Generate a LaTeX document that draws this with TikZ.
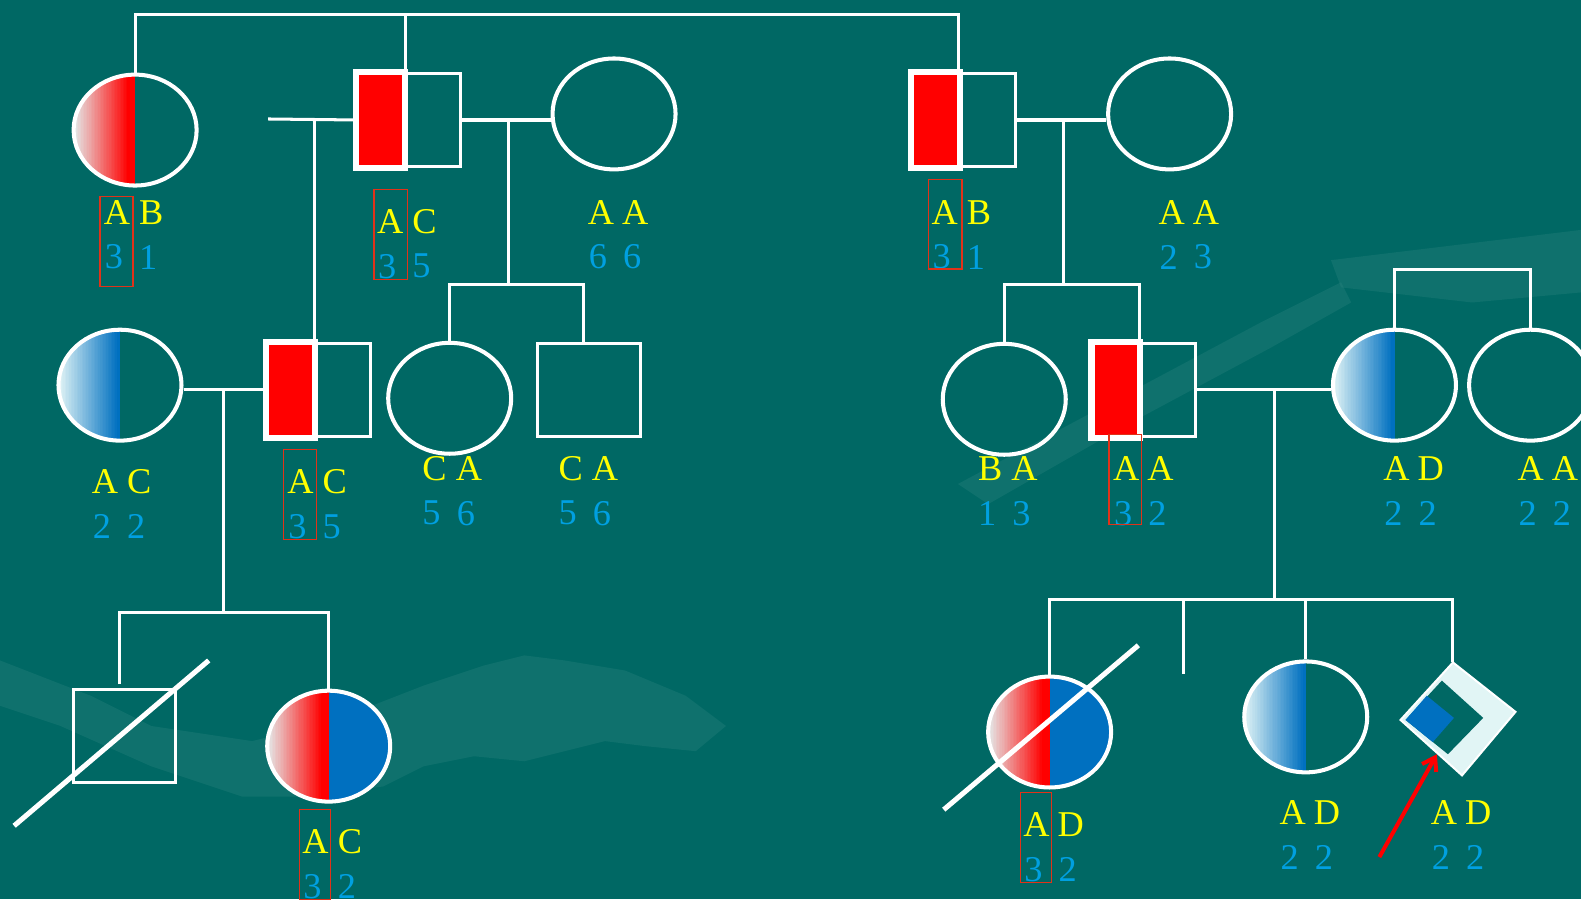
\documentclass[tikz,border=0pt]{standalone}
\usepackage{fontspec}
\setmainfont{Liberation Serif}
\usetikzlibrary{shapes.geometric,arrows.meta}
\definecolor{bgteal}{RGB}{0,104,100}
\definecolor{lightteal}{RGB}{50,135,130}
\definecolor{gyellow}{RGB}{255,255,0}
\definecolor{gblue}{RGB}{0,160,225}
\definecolor{boxred}{RGB}{225,50,25}
\definecolor{solidblue}{RGB}{0,112,192}
\definecolor{palegrey}{RGB}{228,232,232}
\definecolor{palecyan}{RGB}{222,242,245}
\definecolor{diamondfill}{RGB}{225,245,245}
\newcommand{\geno}[7]{%
  \node[allele] (#1a) at (#2,#3) {#4};
  \node[allele] (#1b) at (#2+34,#3) {#5};
  \node[num] (#1c) at (#2-3,#3+44) {#6};
  \node[num] (#1d) at (#2+31,#3+44) {#7};}
% gradient strips on the left half of a path picture: #1 end colour, #2 start colour, #3 strip index at which full colour is reached
\newcommand{\halfgrad}[3]{%
  \foreach \i [evaluate=\i as \p using {int(min(100,\i*100/#3))}] in {0,...,39}{
    \fill[#1!\p!#2] ([xshift=\i*1.525pt]path picture bounding box.north west) rectangle ([xshift=\i*1.525pt+1.9pt]path picture bounding box.south west);
  }}
\begin{document}
\begin{tikzpicture}[x=1pt,y=-1pt,
  fem/.style={ellipse, draw=white, line width=4pt, minimum width=122pt, minimum height=110pt, inner sep=0pt},
  mal/.style={rectangle, draw=white, line width=3pt, minimum width=102pt, minimum height=92pt, inner sep=0pt},
  ln/.style={draw=white, line width=3pt},
  strike/.style={draw=white, line width=5pt, line cap=butt},
  allele/.style={text=gyellow, font=\fontsize{36}{36}\selectfont, inner sep=0pt},
  num/.style={text=gblue, font=\fontsize{36}{36}\selectfont, inner sep=0pt},
  hlbox/.style={draw=boxred, line width=1.5pt},
  redhalf/.style={path picture={\halfgrad{red}{palegrey}{35}}},
  bluehalf/.style={path picture={\halfgrad{solidblue}{palecyan}{38}}},
  redblue/.style={path picture={\halfgrad{red}{palegrey}{35}
      \fill[solidblue] (path picture bounding box.north) rectangle (path picture bounding box.south east);}},
  deco/.style={fill=lightteal, opacity=0.3}
]
\useasboundingbox (0,0) rectangle (1568,892);
\fill[bgteal] (0,0) rectangle (1568,892);
% background decoration
\fill[deco] (0,655) -- (90,690) -- (150,720) -- (250,735) -- (330,715) -- (420,680) -- (480,660) -- (520,650) -- (560,655) -- (620,665) -- (680,690) -- (720,720) -- (690,745) -- (640,740) -- (600,735) -- (560,745) -- (520,755) -- (470,750) -- (420,760) -- (380,780) -- (300,790) -- (240,790) -- (150,760) -- (60,720) -- (0,700) -- cycle;
\fill[deco] (1320,258) -- (1568,228) -- (1568,290) -- (1460,300) -- (1330,285) -- cycle;
\fill[deco] (950,480) -- (1100,400) -- (1250,320) -- (1330,280) -- (1340,300) -- (1260,345) -- (1120,420) -- (980,500) -- cycle;

% generation I
\node[fem, redhalf] (I1) at (134,129) {};
\node[mal] (I2) at (406,119) {};
\node[fem] (I3) at (609,113) {};
\node[mal] (I4) at (956,119) {};
\node[fem] (I5) at (1160,113) {};
% generation II
\node[fem, bluehalf] (II1) at (119,382) {};
\node[mal] (II2) at (316,386.5) {};
\node[fem] (II3) at (446,395) {};
\node[mal] (II4) at (584.5,387) {};
\node[fem] (II5) at (996,396) {};
\node[mal] (II6) at (1135,386.5) {};
\node[fem, bluehalf] (II7) at (1383,382) {};
\node[fem] (II8) at (1518,382) {};
% generation III
\node[mal] (III1) at (123.5,730) {};
\node[fem, redblue] (III2) at (326,740) {};
\node[fem, redblue] (III3) at (1041,726) {};
\node[fem, bluehalf] (III5) at (1295,711) {};

% red halves of affected males
\foreach \m in {I2,I4,II2,II6}{
  \draw[white, line width=6pt, fill=red] (\m.north west) rectangle ([xshift=-4pt]\m.south);
}

% diamond
\coordinate (DL) at (1389,714);
\coordinate (DT) at (1441,657);
\coordinate (DR) at (1503,706);
\coordinate (DB) at (1450,769);
\fill[diamondfill, draw=white, line width=2pt] (DL) -- (DT) -- (DR) -- (DB) -- cycle;
\fill[bgteal] (1394,714) -- (1430,675) -- (1471,712) -- (1436,748) -- cycle;
\fill[solidblue] (1394,714) -- (1415,690) -- (1442,712) -- (1421,736) -- cycle;

% connectors generation I
\coordinate (topbar) at (0,14);
\coordinate (I2top) at ([xshift=-4pt]I2.north);
\coordinate (I4top) at ([xshift=-5pt]I4.north);
\draw[ln] (I1.north) -- (I1.north |- topbar) -- (I4top |- topbar) -- (I4top);
\draw[ln] (I2top) -- (I2top |- topbar);
\coordinate (I2L) at (266,118);
\draw[ln] (I2L) -- (I2.west);
\coordinate (II2top) at ([xshift=-4pt]II2.north);
\draw[ln] (II2top |- I2L) -- (II2top);
\draw[ln] (I2.east) -- (I3.west |- I2.east);
\coordinate (m1) at (504,119);
\coordinate (s1) at (504,282);
\draw[ln] (m1) -- (s1);
\draw[ln] (II3.north) |- (s1) -| ([xshift=-6pt]II4.north);
\draw[ln] (I4.east) -- (I5.west |- I4.east);
\coordinate (m2) at (1055,119);
\coordinate (s2) at (1055,282);
\draw[ln] (m2) -- (s2);
\draw[ln] (II5.north) |- (s2) -| ([xshift=-5pt]II6.north);
\coordinate (s4) at (1450,267);
\draw[ln] (II7.north) |- (s4) -| (II8.north);

% connectors generation II
\draw[ln] (II1.east |- II2.west) -- (II2.west);
\coordinate (m3) at (222,386.5);
\coordinate (s3) at (222,607);
\draw[ln] (m3) -- (s3);
\draw[ln] ([xshift=-5pt,yshift=4pt]III1.north) |- (s3) -| (III2.north);
\draw[ln] (II6.east) -- (II7.west |- II6.east);
\coordinate (m5) at (1264,386.5);
\coordinate (s5) at (1264,595);
\draw[ln] (m5) -- (s5);
\coordinate (dang) at (1174,668);
\draw[ln] (III3.north) |- (s5) -| (DT);
\draw[ln] (dang) -- (dang |- s5);
\draw[ln] (III5.north) -- (III5.north |- s5);

% strike-through lines
\coordinate (x1a) at (14,819);
\coordinate (x1b) at (207,655);
\draw[strike] (x1a) -- (x1b);
\coordinate (x2a) at (936,803);
\coordinate (x2b) at (1129,640);
\draw[strike] (x2a) -- (x2b);

% arrow
\coordinate (arrT) at (1368,850);
\coordinate (arrH) at (1425,748);
\draw[red, line width=4pt, -{Straight Barb[length=12pt,width=16pt]}] (arrT) -- (arrH);

% genotypes
\geno{gI1}{116}{211}{A}{B}{3}{1}
\geno{gI2}{387}{220}{A}{C}{3}{5}
\geno{gI3}{596}{211}{A}{A}{6}{6}
\geno{gI4}{937}{211}{A}{B}{3}{1}
\geno{gI5}{1162}{211}{A}{A}{2}{3}
\geno{gII1}{104}{478}{A}{C}{2}{2}
\geno{gII2}{298}{478}{A}{C}{3}{5}
\geno{gII3}{431}{465}{C}{A}{5}{6}
\geno{gII4}{566}{465}{C}{A}{5}{6}
\geno{gII5}{982}{465}{B}{A}{1}{3}
\geno{gII6}{1117}{465}{A}{A}{3}{2}
\geno{gII7}{1385}{465}{A}{D}{2}{2}
\geno{gII8}{1518}{465}{A}{A}{2}{2}
\geno{gIII2}{313}{835}{A}{C}{3}{2}
\geno{gIII3}{1028}{818}{A}{D}{3}{2}
\geno{gIII5}{1282}{806}{A}{D}{2}{2}
\geno{gIII6}{1432}{806}{A}{D}{2}{2}

% red highlight boxes
\draw[hlbox] (99,195) rectangle (132,284);
\draw[hlbox] (371,188) rectangle (404,277);
\draw[hlbox] (921,178) rectangle (954,267);
\draw[hlbox] (281,446) rectangle (314,535);
\draw[hlbox] (1100,431) rectangle (1132,520);
\draw[hlbox] (297,803) rectangle (328,892);
\draw[hlbox] (1012,786) rectangle (1043,875);
\end{tikzpicture}
\end{document}
